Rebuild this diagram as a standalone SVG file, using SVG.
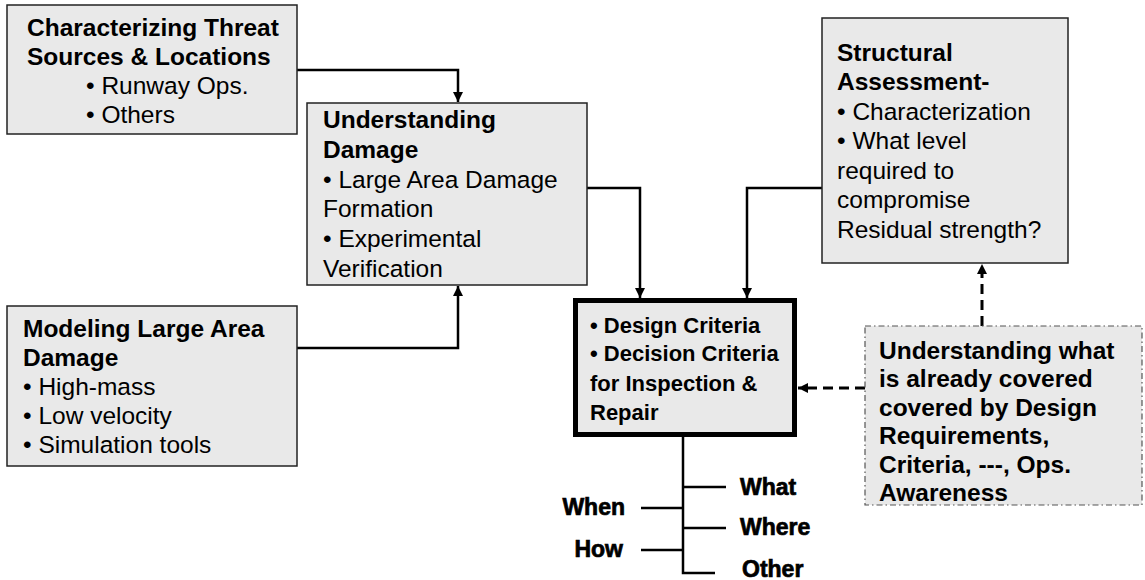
<svg xmlns="http://www.w3.org/2000/svg" width="1145" height="580" viewBox="0 0 1145 580">
<defs>
<style>
.box{fill:#e9e9e9;stroke:#222;stroke-width:1.5}
.main{fill:#e9e9e9;stroke:#000;stroke-width:5}
.dd{fill:#e9e9e9;stroke:#555;stroke-width:1.2;stroke-dasharray:6 3 1.5 3}
text{font-family:"Liberation Sans",Arial,sans-serif;font-size:24.5px;fill:#000}
.b{font-weight:bold}
.m{font-weight:bold;font-size:22px}
.lbl{font-weight:bold;font-size:23px;stroke:#000;stroke-width:0.7}
.c{fill:none;stroke:#000;stroke-width:2.5}
.d{fill:none;stroke:#000;stroke-width:3;stroke-dasharray:10 6}
</style>
<marker id="ah" viewBox="0 0 10 10" markerUnits="userSpaceOnUse" markerWidth="10" markerHeight="10" refX="10" refY="5" orient="auto">
<path d="M0,0 L10,5 L0,10 z" fill="#000"/>
</marker>
</defs>

<g id="connectors">
<path class="c" d="M297,70 H458 V102" marker-end="url(#ah)"/>
<path class="c" d="M297,348 H458 V286" marker-end="url(#ah)"/>
<path class="c" d="M587,188 H640 V298" marker-end="url(#ah)"/>
<path class="c" d="M822,188 H747 V298" marker-end="url(#ah)"/>
<path class="d" d="M982,326 V264" marker-end="url(#ah)"/>
<path class="d" d="M865,388 H798" marker-end="url(#ah)"/>
<path class="c" d="M683,437 V573 H715"/>
<path class="c" d="M683,487 H726 M683,528 H726 M641,508 H683 M641,550 H683"/>
</g>

<g id="threat">
<rect class="box" x="7" y="5" width="290" height="129"/>
<text class="b" x="27" y="36">Characterizing Threat</text>
<text class="b" x="27" y="65">Sources &amp; Locations</text>
<text x="86" y="94">• Runway Ops.</text>
<text x="86" y="123">• Others</text>
</g>

<g id="understanding">
<rect class="box" x="307" y="103" width="280" height="182"/>
<text class="b" x="323" y="128">Understanding</text>
<text class="b" x="323" y="158">Damage</text>
<text x="323" y="188">• Large Area Damage</text>
<text x="323" y="217">Formation</text>
<text x="323" y="247">• Experimental</text>
<text x="323" y="277">Verification</text>
</g>

<g id="structural">
<rect class="box" x="822" y="18" width="246" height="245"/>
<text class="b" x="837" y="61">Structural</text>
<text class="b" x="837" y="90">Assessment-</text>
<text x="837" y="120">• Characterization</text>
<text x="837" y="149">• What level</text>
<text x="837" y="179">required to</text>
<text x="837" y="208">compromise</text>
<text x="837" y="238">Residual strength?</text>
</g>

<g id="modeling">
<rect class="box" x="7" y="306" width="290" height="160"/>
<text class="b" x="23" y="337">Modeling Large Area</text>
<text class="b" x="23" y="366">Damage</text>
<text x="23" y="395">• High-mass</text>
<text x="23" y="424">• Low velocity</text>
<text x="23" y="453">• Simulation tools</text>
</g>

<g id="criteria">
<rect class="main" x="575.5" y="300.5" width="219" height="134"/>
<text class="m" x="590" y="333">• Design Criteria</text>
<text class="m" x="590" y="361">• Decision Criteria</text>
<text class="m" x="590" y="391">for Inspection &amp;</text>
<text class="m" x="590" y="420">Repair</text>
</g>

<g id="covered">
<rect class="dd" x="865" y="326" width="277" height="179"/>
<text class="b" x="879" y="359">Understanding what</text>
<text class="b" x="879" y="387">is already covered</text>
<text class="b" x="879" y="416">covered by Design</text>
<text class="b" x="879" y="444">Requirements,</text>
<text class="b" x="879" y="473">Criteria, ---, Ops.</text>
<text class="b" x="879" y="501">Awareness</text>
</g>

<g id="labels">
<text class="lbl" x="740" y="495">What</text>
<text class="lbl" x="740" y="535">Where</text>
<text class="lbl" x="742" y="577">Other</text>
<text class="lbl" x="625" y="515" text-anchor="end">When</text>
<text class="lbl" x="623" y="557" text-anchor="end">How</text>
</g>
</svg>
